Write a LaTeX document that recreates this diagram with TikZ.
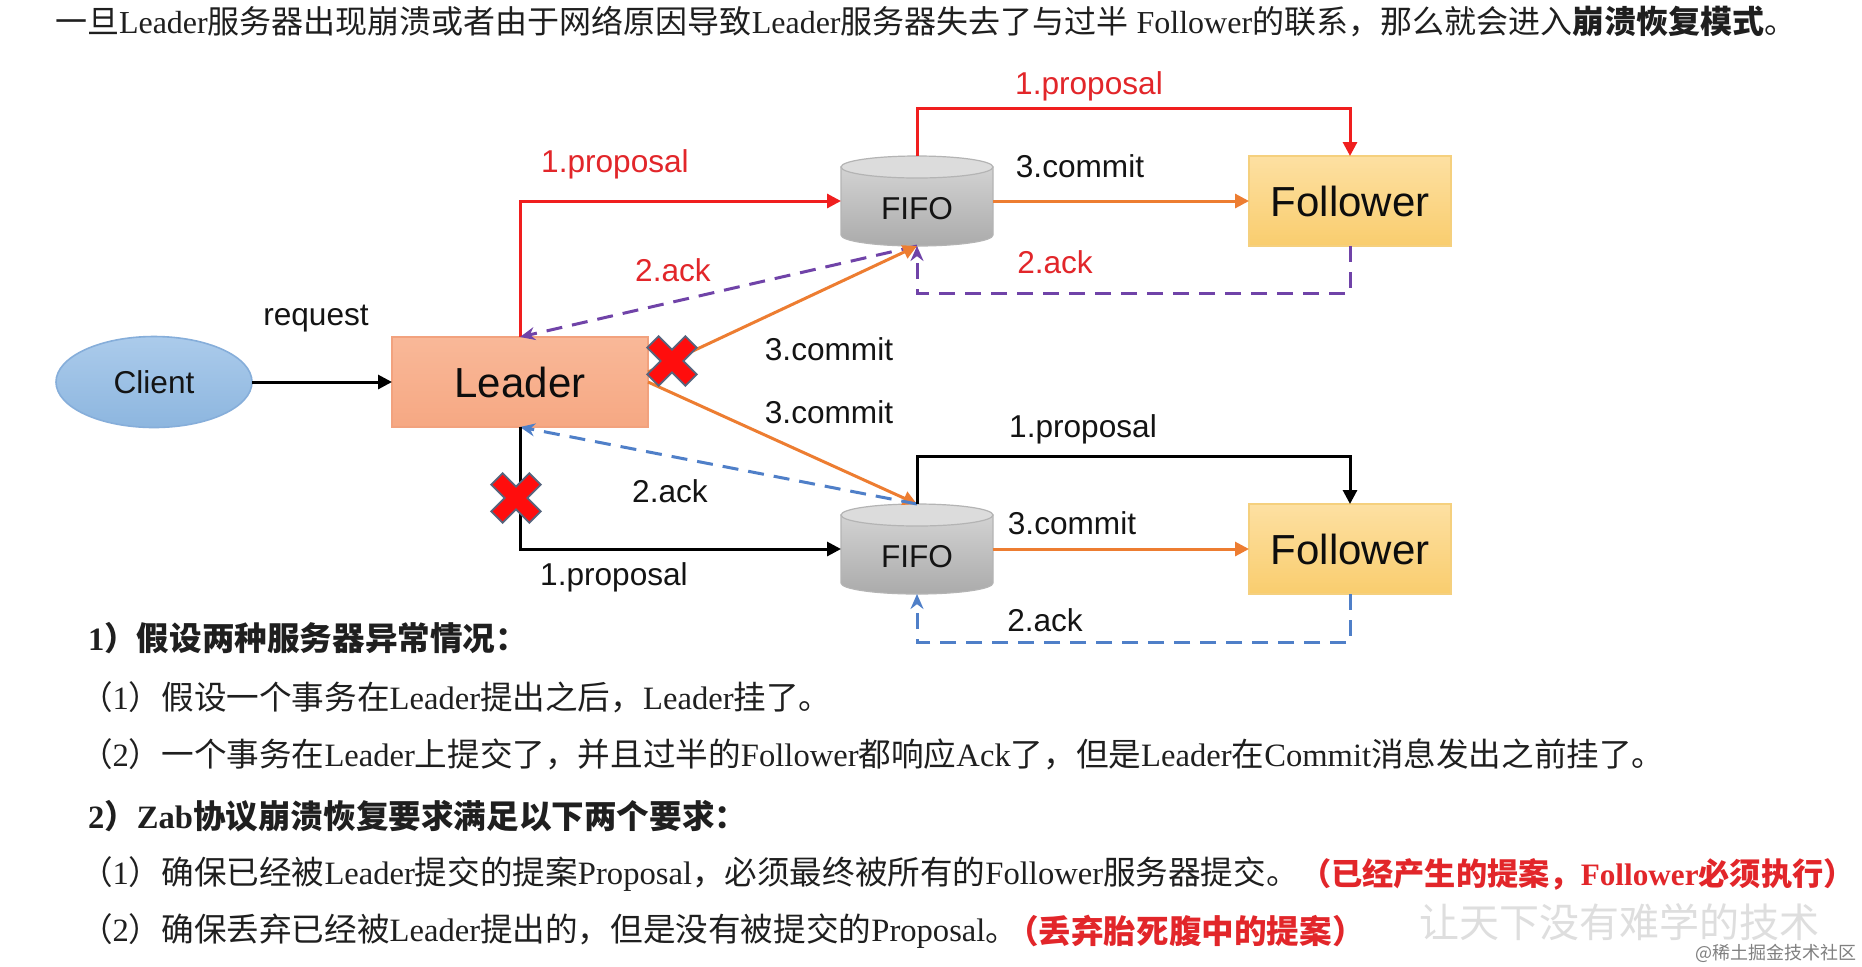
\documentclass[tikz,border=0pt]{standalone}
\usepackage{fontspec}
\setmainfont{Liberation Serif}
\newfontfamily\arialf{Liberation Sans}
\newfontfamily\zhf{Noto Sans CJK SC}
\newcommand\zh[1]{{\zhf #1}}
\usetikzlibrary{arrows.meta,shapes.geometric}
\definecolor{lred}{HTML}{F01E1E}
\definecolor{tred}{HTML}{E2262A}
\definecolor{lorange}{HTML}{ED7D31}
\definecolor{lpurple}{HTML}{7043A8}
\definecolor{lblue}{HTML}{4F7FC8}
\definecolor{clienta}{HTML}{ABCBEB}
\definecolor{clientc}{HTML}{8DB6DF}
\definecolor{clientb}{HTML}{86AEDA}
\definecolor{leadera}{HTML}{F9B898}
\definecolor{leaderc}{HTML}{F6A883}
\definecolor{leaderb}{HTML}{F2A27E}
\definecolor{folla}{HTML}{FDE0A2}
\definecolor{follc}{HTML}{F9CD6E}
\definecolor{follb}{HTML}{F5D07E}
\definecolor{cyla}{HTML}{D2D2D2}
\definecolor{cylc}{HTML}{ABABAB}
\definecolor{cylt}{HTML}{DCDCDC}
\definecolor{cylb}{HTML}{B4B4B4}
\definecolor{xborder}{HTML}{56657E}
\newcommand\fifocyl[2]{%
  \shade[top color=cyla, bottom color=cylc, draw=cylb, line width=0.6pt]
    (#1-76,#2-34) -- (#1-76,#2+34)
    arc[start angle=180, end angle=0, x radius=76, y radius=11]
    -- (#1+76,#2-34) -- cycle;
  \filldraw[fill=cylt, draw=cylb, line width=0.6pt] (#1,#2-34) ellipse [x radius=76, y radius=11];
}
\newcommand\xmark[2]{%
  \begin{scope}[shift={(#1,#2)}, rotate=45]
    \filldraw[fill=red!95!white, draw=xborder, line width=0.9pt]
      (-8,-27) -- (8,-27) -- (8,-8) -- (27,-8) -- (27,8) -- (8,8) -- (8,27)
      -- (-8,27) -- (-8,8) -- (-27,8) -- (-27,-8) -- (-8,-8) -- cycle;
  \end{scope}
}
\begin{document}
\begin{tikzpicture}[x=0.5pt,y=-0.5pt,
  every node/.style={inner sep=0pt, outer sep=0pt},
  lbl/.style={font=\arialf\fontsize{15.8pt}{18pt}\selectfont, text=black!92},
  big/.style={font=\arialf\fontsize{21pt}{24pt}\selectfont, text=black!95},
  body/.style={font=\fontsize{16.3pt}{19pt}\selectfont, anchor=west, text=black!88},
  conn/.style={line width=1.5pt},
  tip/.style={-{Triangle[length=7pt,width=7pt]}},
  dtip/.style={-{Stealth[length=7.5pt,width=6.5pt]}},
  dsh/.style={dash pattern=on 8pt off 5pt},
  box/.style={minimum width=#1, minimum height=45pt},
]
\fill[white] (0,0) rectangle (1862,966);
\useasboundingbox (0,0) rectangle (1862,966);

% shapes
\node[ellipse, draw=clientb, line width=0.8pt, top color=clienta, bottom color=clientc,
      minimum width=98pt, minimum height=45.5pt, lbl] (client) at (154,382) {Client};
\node[box=128pt, draw=leaderb, line width=0.6pt, top color=leadera, bottom color=leaderc, big] (leader) at (520,382) {Leader};
\node[box=101pt, draw=follb, line width=0.6pt, top color=folla, bottom color=follc, big] (followerA) at (1350,201) {Follower};
\node[box=101pt, draw=follb, line width=0.6pt, top color=folla, bottom color=follc, big] (followerB) at (1350,549) {Follower};
\fifocyl{917}{201}
\fifocyl{917}{549}
\node[box=76pt] (fifoA) at (917,201) {};
\node[box=76pt] (fifoB) at (917,549) {};
\node[lbl] (fifoAt) at (917,209) {FIFO};
\node[lbl] (fifoBt) at (917,557) {FIFO};

% helper coordinates
\coordinate (upA) at (0,108);
\coordinate (loA) at (0,293);
\coordinate (upB) at (0,456);
\coordinate (loB) at (0,642);

% connectors
\draw[conn, tip] (client.east) -- (leader.west);
\draw[conn, lred, tip] (leader.north) |- (fifoA.west);
\draw[conn, lred, tip] (fifoA.north) -- (fifoA.north |- upA) -| (followerA.north);
\draw[conn, lorange, tip] (fifoA.east) -- (followerA.west);
\draw[conn, lpurple, dsh, dtip] (followerA.south) -- (followerA.south |- loA) -| (fifoA.south);
\draw[conn, lpurple, dsh, dtip] (fifoA.south) -- (leader.north);
\draw[conn, lorange, tip] ([yshift=5pt]leader.east) -- (fifoA.south);
\draw[conn, lorange, tip] (leader.east) -- (fifoB.north);
\draw[conn, lblue, dsh, dtip] (fifoB.north) -- (leader.south);
\draw[conn, tip] (leader.south) |- (fifoB.west);
\draw[conn, tip] (fifoB.north) -- (fifoB.north |- upB) -| (followerB.north);
\draw[conn, lorange, tip] (fifoB.east) -- (followerB.west);
\draw[conn, lblue, dsh, dtip] (followerB.south) -- (followerB.south |- loB) -| (fifoB.south);

% cross marks
\xmark{672}{361}
\xmark{516}{498}

% labels
\node[lbl] (lreq) at (316,319) {request};
\node[lbl, text=tred] (lp1) at (615,164) {1.proposal};
\node[lbl, text=tred] (la1) at (673,270) {2.ack};
\node[lbl, text=tred] (lp2) at (1089,86) {1.proposal};
\node[lbl] (lc1) at (1080,166) {3.commit};
\node[lbl, text=tred] (la2) at (1055,262) {2.ack};
\node[lbl] (lc2) at (829,349) {3.commit};
\node[lbl] (lc3) at (829,412) {3.commit};
\node[lbl] (la3) at (670,491) {2.ack};
\node[lbl] (lp3) at (614,577) {1.proposal};
\node[lbl] (lp4) at (1083,429) {1.proposal};
\node[lbl] (lc4) at (1072,523) {3.commit};
\node[lbl] (la4) at (1045,620) {2.ack};

% text
\node[body, font=\fontsize{16pt}{19pt}\selectfont] (t0) at (55,21) {\zh{一旦}Leader\zh{服务器出现崩溃或者由于网络原因导致}Leader\zh{服务器失去了与过半} Follower\zh{的联系，那么就会进入}\textbf{\zh{崩溃恢复模式}}\zh{。}};
\node[body] (t1) at (88,638) {\textbf{1\zh{）假设两种服务器异常情况：}}};
\node[body] (t2) at (80,697) {\zh{（}1\zh{）假设一个事务在}Leader\zh{提出之后，}Leader\zh{挂了。}};
\node[body] (t3) at (80,754) {\zh{（}2\zh{）一个事务在}Leader\zh{上提交了，并且过半的}Follower\zh{都响应}Ack\zh{了，但是}Leader\zh{在}Commit\zh{消息发出之前挂了。}};
\node[body] (t4) at (88,816) {\textbf{2\zh{）}Zab\zh{协议崩溃恢复要求满足以下两个要求：}}};
\node[body] (t5) at (80,874) {\zh{（}1\zh{）确保已经被}Leader\zh{提交的提案}Proposal\zh{，必须最终被所有的}Follower\zh{服务器提交。}};
\node[body, font=\fontsize{15.6pt}{19pt}\selectfont, text=tred] (t5r) at (1300,874) {\textbf{\zh{（已经产生的提案，}Follower\zh{必须执行）}}};
\node[body] (t6) at (80,931) {\zh{（}2\zh{）确保丢弃已经被}Leader\zh{提出的，但是没有被提交的}Proposal\zh{。}};
\node[body, text=tred] (t6r) at (1006,931) {\textbf{\zh{（丢弃胎死腹中的提案）}}};
\node[font=\zhf\fontsize{20pt}{22pt}\selectfont, text=black!13] (wm) at (1619,922) {让天下没有难学的技术};
\node[font=\zhf\fontsize{9pt}{10pt}\selectfont, text=black!50] (site) at (1776,953) {@稀土掘金技术社区};
\end{tikzpicture}
\end{document}
